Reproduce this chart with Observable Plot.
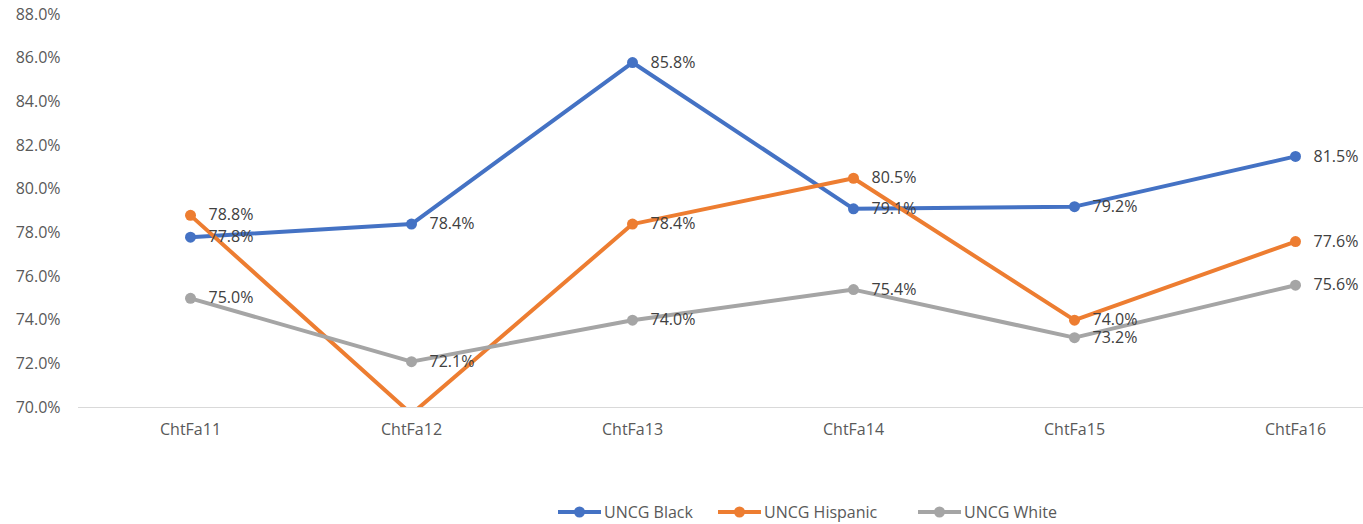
<!DOCTYPE html>
<html>
<head>
<meta charset="utf-8">
<script src="https://cdn.jsdelivr.net/npm/d3@7"></script>
<script src="https://cdn.jsdelivr.net/npm/@observablehq/plot@0.6"></script>
<style>
  html, body { margin: 0; padding: 0; background: #fff; }
  #wrap { position: relative; width: 1363px; height: 524px; font-family: "Open Sans", sans-serif; }
  .leg { position: absolute; top: 502px; display: flex; align-items: center; font-size: 16px; color: #595959; height: 20px; }
  .leg svg { margin-right: 3px; }
</style>
</head>
<body>
<div id="wrap"><div id="chart"></div></div>
<script>
const categories = ["ChtFa11", "ChtFa12", "ChtFa13", "ChtFa14", "ChtFa15", "ChtFa16"];
const seriesNames = ["UNCG Black", "UNCG Hispanic", "UNCG White"];
const seriesColors = ["#4472C4", "#ED7D31", "#A5A5A5"];
const black = [77.8, 78.4, 85.8, 79.1, 79.2, 81.5];
const hispanic = [78.8, 69.7, 78.4, 80.5, 74.0, 77.6];
const white = [75.0, 72.1, 74.0, 75.4, 73.2, 75.6];
const yTicks = [70, 72, 74, 76, 78, 80, 82, 84, 86, 88];

const allSeries = [black, hispanic, white];
const data = [];
seriesNames.forEach((s, i) => {
  allSeries[i].forEach((v, j) => data.push({series: s, cat: categories[j], value: v}));
});
const fmt = d => d.toFixed(1) + "%";

const chart = Plot.plot({
  width: 1363,
  height: 480,
  marginLeft: 78,
  marginRight: 0,
  marginTop: 14,
  marginBottom: 73,
  style: {fontFamily: "Open Sans", fontSize: "16px", color: "#595959", background: "white"},
  x: {type: "point", domain: categories, padding: 0, insetLeft: 111, insetRight: 68, label: null},
  y: {domain: [70, 88], label: null},
  color: {domain: seriesNames, range: seriesColors},
  marks: [
    Plot.ruleY([70], {stroke: "#d9d9d9", strokeWidth: 1}),
    Plot.axisY({ticks: yTicks, tickSize: 0, tickPadding: 18, tickFormat: fmt, label: null, fill: "#595959"}),
    Plot.axisX({tickSize: 0, tickPadding: 16, label: null, fill: "#595959"}),
    Plot.line(data, {x: "cat", y: "value", z: "series", stroke: "series", strokeWidth: 4, clip: true}),
    Plot.dot(data, {x: "cat", y: "value", fill: "series", r: 5.5, clip: true}),
    Plot.text(data, {x: "cat", y: "value", text: d => fmt(d.value), dx: 18, textAnchor: "start", fill: "#404040", fontSize: 16, clip: true})
  ]
});
document.getElementById("chart").appendChild(chart);

const wrap = document.getElementById("wrap");
const legLeft = [558, 718, 918];
seriesNames.forEach((s, i) => {
  const d = document.createElement("div");
  d.className = "leg";
  d.style.left = legLeft[i] + "px";
  d.innerHTML = `<svg width="43" height="12"><line x1="0" y1="6" x2="43" y2="6" stroke="${seriesColors[i]}" stroke-width="4"/><circle cx="21.5" cy="6" r="5.5" fill="${seriesColors[i]}"/></svg><span>${s}</span>`;
  wrap.appendChild(d);
});
</script>
</body>
</html>
